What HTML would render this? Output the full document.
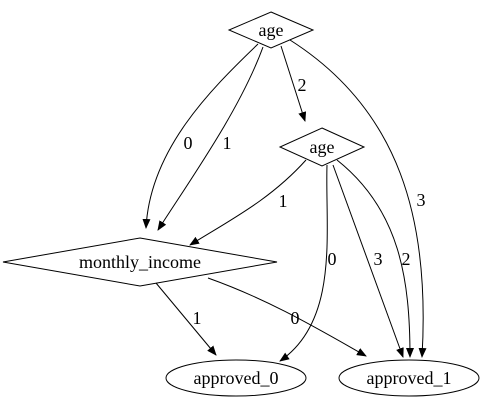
<!DOCTYPE html>
<html><head><style>body{margin:0;background:#fff}svg{display:block}text{font-family:"Liberation Serif",serif;font-size:18px}</style></head>
<body>
<svg width="484" height="407" viewBox="0 0 484 407" xmlns="http://www.w3.org/2000/svg">
<defs><marker id="a" markerWidth="10" markerHeight="8" refX="9" refY="4" orient="auto" markerUnits="userSpaceOnUse"><path d="M0,0 L10,4 L0,8 Z" fill="#000"/></marker></defs>
<g fill="none" stroke="#000" stroke-width="1">
<polygon points="271,12 313,30 271,48 229,30"/>
<polygon points="322,128 364,147 322,166 280,147"/>
<polygon points="140,238 277,262 140,286 3,262"/>
<ellipse cx="236" cy="378" rx="70" ry="18"/>
<ellipse cx="409" cy="378" rx="70" ry="18"/>
<path d="M258,44 C210,90 150,150 146,228" marker-end="url(#a)"/>
<path d="M263,47 C240,110 190,180 158,230" marker-end="url(#a)"/>
<path d="M281,46 L305,121" marker-end="url(#a)"/>
<path d="M290,40 C400,110 430,220 422,357" marker-end="url(#a)"/>
<path d="M306,160 C270,200 230,220 190,245" marker-end="url(#a)"/>
<path d="M327,165 C325,230 340,320 280,361" marker-end="url(#a)"/>
<path d="M333,165 L403,357" marker-end="url(#a)"/>
<path d="M337,160 C400,210 410,280 410,357" marker-end="url(#a)"/>
<path d="M156,283 L216,355" marker-end="url(#a)"/>
<path d="M208,278 C270,300 320,330 366,356" marker-end="url(#a)"/>
</g>
<g text-anchor="middle">
<text x="271" y="36">age</text>
<text x="322" y="153">age</text>
<text x="140" y="268">monthly_income</text>
<text x="236" y="384">approved_0</text>
<text x="409" y="384">approved_1</text>
<text x="188" y="149">0</text>
<text x="227" y="149">1</text>
<text x="302" y="91">2</text>
<text x="421" y="206">3</text>
<text x="283" y="207">1</text>
<text x="332" y="265">0</text>
<text x="378" y="265">3</text>
<text x="406" y="265">2</text>
<text x="197" y="324">1</text>
<text x="295" y="324">0</text>
</g>
</svg>
</body></html>
